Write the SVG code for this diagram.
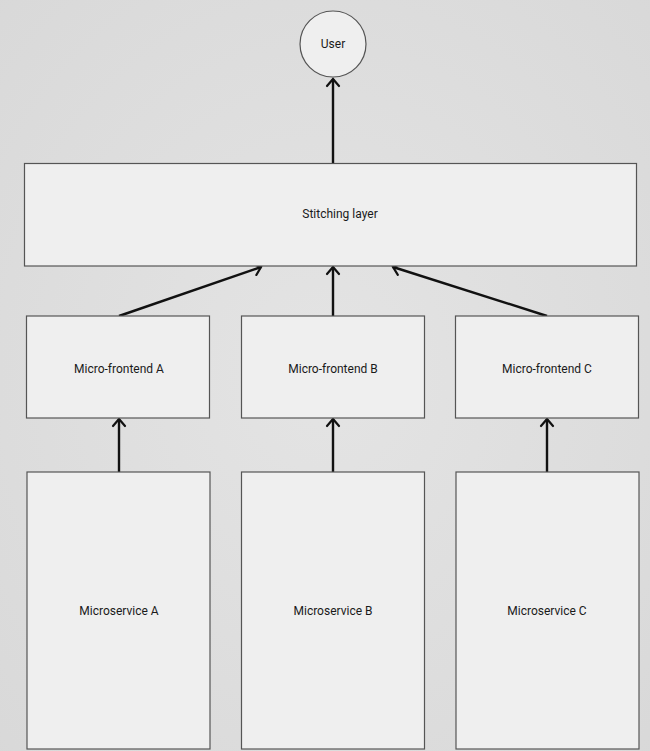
<svg xmlns="http://www.w3.org/2000/svg" width="650" height="751" viewBox="0 0 650 751">
  <style>
    .box { fill: #efefef; stroke: #555555; stroke-width: 1.2; }
    .lbl { font-family: Roboto, "Liberation Sans", sans-serif; font-size: 12px; fill: #1a1a1a; text-anchor: middle; dominant-baseline: central; }
    .edge { stroke: #111111; stroke-width: 2.4; fill: none; marker-end: url(#arrow); }
  </style>
  <defs>
    <radialGradient id="bg" cx="50%" cy="50%" r="75%">
      <stop offset="0" stop-color="#e4e4e4"/>
      <stop offset="1" stop-color="#d8d8d8"/>
    </radialGradient>
    <marker id="arrow" viewBox="-10 -10 20 20" markerWidth="20" markerHeight="20" refX="0" refY="0" orient="auto" markerUnits="userSpaceOnUse">
      <path d="M-7,-6 L0,0 L-7,6" fill="none" stroke="#111111" stroke-width="2.2" stroke-linecap="round" stroke-linejoin="miter"/>
    </marker>
  </defs>

  <rect width="650" height="751" fill="url(#bg)"/>

  <!-- connectors -->
  <g id="connectors">
    <line class="edge" x1="333" y1="163" x2="333" y2="79"/>
    <line class="edge" x1="119" y1="316" x2="261" y2="267"/>
    <line class="edge" x1="333" y1="316" x2="333" y2="267"/>
    <line class="edge" x1="547" y1="316" x2="393" y2="267"/>
    <line class="edge" x1="119" y1="472" x2="119" y2="419"/>
    <line class="edge" x1="333" y1="472" x2="333" y2="419"/>
    <line class="edge" x1="547" y1="472" x2="547" y2="419"/>
  </g>

  <g id="user">
    <circle class="box" cx="333" cy="44" r="33"/>
    <text class="lbl" x="333" y="44">User</text>
  </g>

  <g id="stitching-layer">
    <rect class="box" x="24.5" y="163.5" width="612" height="102.5"/>
    <text class="lbl" x="340" y="214">Stitching layer</text>
  </g>

  <g id="micro-frontend-a">
    <rect class="box" x="26.5" y="316" width="183" height="102"/>
    <text class="lbl" x="119" y="369">Micro-frontend A</text>
  </g>
  <g id="micro-frontend-b">
    <rect class="box" x="241.5" y="316" width="183" height="102"/>
    <text class="lbl" x="333" y="369">Micro-frontend B</text>
  </g>
  <g id="micro-frontend-c">
    <rect class="box" x="455.5" y="316" width="183" height="102"/>
    <text class="lbl" x="547" y="369">Micro-frontend C</text>
  </g>

  <g id="microservice-a">
    <rect class="box" x="27" y="472" width="183" height="277"/>
    <text class="lbl" x="119" y="611">Microservice A</text>
  </g>
  <g id="microservice-b">
    <rect class="box" x="241.5" y="472" width="183" height="277"/>
    <text class="lbl" x="333" y="611">Microservice B</text>
  </g>
  <g id="microservice-c">
    <rect class="box" x="456" y="472" width="183" height="277"/>
    <text class="lbl" x="547" y="611">Microservice C</text>
  </g>
</svg>
